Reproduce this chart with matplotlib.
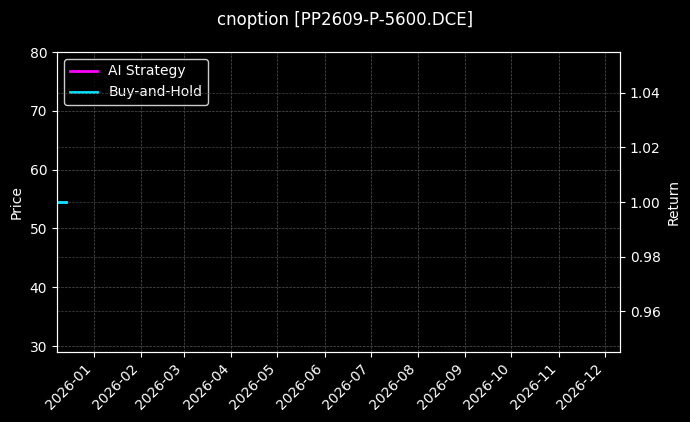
import matplotlib
matplotlib.use("Agg")
import matplotlib.pyplot as plt
import matplotlib.dates as mdates
import pandas as pd

dates = pd.to_datetime(["2025-12-08", "2025-12-14"])
ai_strategy = [1.0, 1.0]
buy_hold = [1.0, 1.0]
title = "cnoption [PP2609-P-5600.DCE]"

bg = "#000000"
fig = plt.figure(figsize=(6.9, 4.22), dpi=100, facecolor=bg)
ax = fig.add_axes([57/690, 1-352/422, (620-57)/690, 300/422], facecolor=bg)
ax2 = ax.twinx()
ax.set_ylim(29, 80)
ax.set_xlim(pd.Timestamp("2025-12-08"), pd.Timestamp("2026-12-11"))
l1, = ax2.plot(dates, ai_strategy, color="#ff00ff", lw=2, label="AI Strategy")
l2, = ax2.plot(dates, buy_hold, color="#00e5ff", lw=2, label="Buy-and-Hold")
ax2.set_ylim(0.945, 1.055)
ax.xaxis.set_major_locator(mdates.MonthLocator())
ax.xaxis.set_major_formatter(mdates.DateFormatter("%Y-%m"))
for lab in ax.get_xticklabels():
    lab.set_rotation(45); lab.set_ha("right")
ax.grid(True, color="#555555", ls="--", lw=0.5)
ax2.grid(True, color="#444444", ls="--", lw=0.5)
for a in (ax, ax2):
    a.tick_params(colors="white")
    for s in a.spines.values():
        s.set_color("white")
ax.set_ylabel("Price", color="white")
ax2.set_ylabel("Return", color="white")
leg = ax.legend(handles=[l1, l2], loc="upper left", facecolor=bg, edgecolor="white", labelcolor="white")
leg.set_zorder(10)
fig.suptitle(title, color="white", fontsize=12, y=0.975)
fig.savefig("out.png", dpi=100, facecolor=bg)
